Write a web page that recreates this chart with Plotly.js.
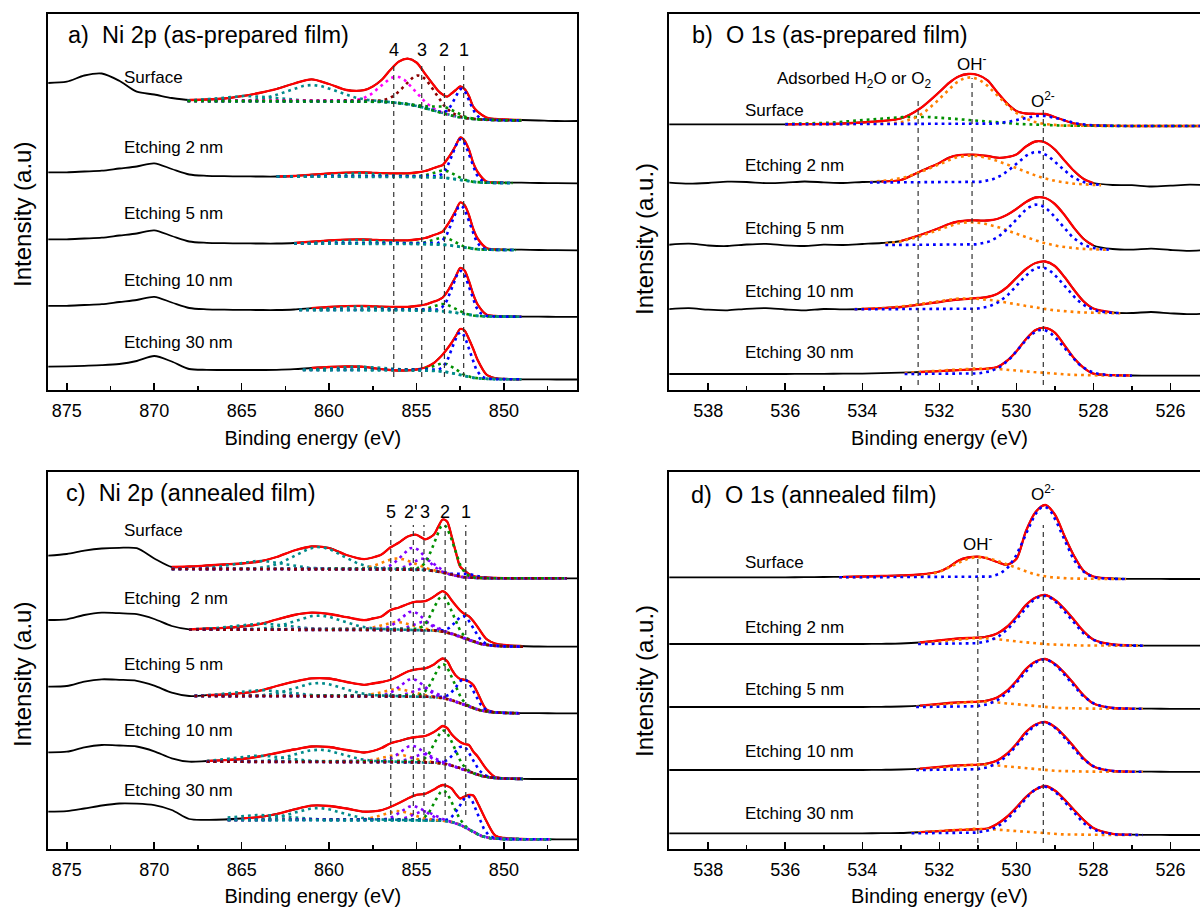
<!DOCTYPE html>
<html>
<head>
<meta charset="utf-8">
<script src="https://cdn.plot.ly/plotly-3.0.1.min.js"></script>
<style>
  html, body { margin: 0; padding: 0; background: #fff; overflow: hidden; }
  body { width: 1200px; height: 907px; }
  #chart { width: 1230px; height: 907px; }
</style>
</head>
<body>
<div id="chart"></div>
<script>
// ---------- binding-energy grids (eV) ----------
const niEnergy = [876.1, 875, 874, 873, 872, 871, 870, 869, 868, 867, 866, 865, 864, 863, 862, 861, 860, 859, 858, 857.5, 857, 856.5, 856, 855.5, 855, 854.5, 854, 853.75, 853.5, 853.25, 853, 852.75, 852.5, 852.25, 852, 851.75, 851.5, 851, 850.5, 850, 849, 848, 847, 845.7];
const oEnergy = [539.1, 538.5, 538, 537.5, 537, 536.5, 536, 535.5, 535, 534.5, 534, 533.5, 533, 532.5, 532, 531.75, 531.5, 531.25, 531, 530.75, 530.5, 530.25, 530, 529.75, 529.5, 529.25, 529, 528.75, 528.5, 528.25, 528, 527.5, 527, 526.5, 526, 525.5, 524.9];

// ---------- Ni 2p, as-prepared film (stacked intensities, a.u.) ----------
const niAsSurface = [307, 308.3, 314.5, 316.5, 309.2, 298.3, 295.5, 292, 290, 290.5, 291.5, 293.8, 297, 301, 306.5, 310.6, 306, 300, 299.8, 303.5, 310, 320, 328.5, 331.3, 327.5, 316, 304.5, 299, 295.5, 293.3, 296.5, 300, 303.5, 301, 294, 283.3, 278.3, 272.5, 271, 270.5, 270, 269.5, 269, 269];
const niAs2nm = [217.7, 217.7, 218.5, 219.3, 221.5, 223.5, 226.7, 221, 215.5, 214.2, 213.8, 213.6, 213.5, 213.5, 214, 215.3, 216.5, 217.4, 217.5, 217.2, 216.8, 216.7, 216.7, 216.7, 217.5, 219, 222, 223.5, 225, 230.5, 237, 244.5, 252.5, 249.5, 240.5, 227, 218, 208.5, 207.5, 207.3, 207.3, 207, 206.8, 206.7];
const niAs5nm = [150.7, 150.7, 151.5, 152.3, 154.5, 156.5, 159.7, 154, 148.5, 147.2, 146.8, 146.6, 146.5, 146.5, 147, 148.3, 149.5, 150.4, 150.5, 150.2, 149.8, 149.7, 149.7, 149.7, 150.5, 152, 155, 156.5, 158.5, 164.5, 171.5, 179.5, 187.5, 185, 175, 161, 151.5, 142, 140.5, 140.3, 140.3, 140, 139.8, 139.7];
const niAs10nm = [84.2, 84.2, 85, 85.8, 88, 90, 93.2, 87.5, 82, 80.7, 80.3, 80.1, 80, 80, 80.5, 81.8, 83, 83.9, 84, 83.7, 83.3, 83.2, 83.2, 83.2, 84, 85.5, 88.5, 90, 92.5, 98, 105.5, 113.5, 122, 119.5, 109, 95.5, 85.5, 75.5, 74, 73.6, 73.4, 73.3, 73.2, 73.2];
const niAs30nm = [23.3, 23.7, 24.2, 24.8, 26, 29, 34, 28.5, 21, 20.2, 20, 20, 20, 20.2, 20.8, 22, 23, 23.5, 23.2, 22, 20.8, 20, 19.5, 19.7, 20.5, 22.5, 27, 31, 35.5, 41, 47, 54, 61, 59.5, 51, 41, 30, 15.5, 11.8, 11, 10.7, 10.7, 10.5, 10.5];

// ---------- O 1s, as-prepared film ----------
const oAsSurface = [265.7, 265.7, 265.7, 265.7, 265.7, 265.7, 265.7, 265.8, 266, 266.5, 267.5, 269, 271.5, 281.5, 298, 307, 313.5, 316, 315, 309.7, 298, 287, 279, 276.5, 276.2, 276, 273, 269.5, 266.5, 265, 264.5, 264.2, 264, 264, 264, 264, 264];
const oAs2nm = [207.5, 206.3, 207, 208.3, 208, 206.8, 207.3, 208.5, 207.7, 207, 208, 208.5, 210, 218.5, 227, 232.3, 234.8, 235.3, 235.2, 234, 232.3, 232.8, 235.5, 243.5, 248.5, 247.5, 240.5, 229.5, 219, 211, 207, 205, 204.8, 203.5, 204.3, 205.3, 204.6];
const oAs5nm = [145, 146.3, 144.5, 144, 145.5, 146.2, 144.7, 144, 145.3, 145, 146, 147, 149, 155, 162, 166, 168.5, 169.5, 169.5, 169.5, 171, 175, 181, 188, 192.5, 192, 186, 175, 162, 151, 144.5, 141, 140.3, 141.3, 140, 139.2, 140.3];
const oAs10nm = [80.7, 81.8, 80.3, 79.7, 81.2, 81.9, 80.5, 79.6, 81, 80.6, 81, 81.8, 83, 85.3, 88, 89.5, 90.5, 91.2, 92, 93, 96, 102.5, 112, 121, 127, 128.5, 124, 113, 100, 88.5, 81.5, 77.5, 77, 78, 76.7, 75.8, 77];
const oAs30nm = [16, 16, 16, 16, 16, 16, 16, 16.1, 16.2, 16.3, 16.4, 16.9, 17.3, 18, 18.9, 19.5, 19.9, 20.4, 20.8, 21.4, 23, 29, 38.6, 50.8, 59.9, 62.2, 57.4, 44.8, 31.7, 22.1, 16.3, 14.8, 14.5, 14.3, 14.3, 14.3, 14.3];

// ---------- Ni 2p, annealed film ----------
const niAnSurface = [293.3, 295, 298.3, 300.5, 301.2, 300.8, 290.5, 282, 282.5, 283.5, 284.5, 285.5, 287.5, 292, 298.5, 302.5, 301, 294, 289.8, 291.5, 294.5, 301.5, 306.5, 312.5, 314.2, 309.7, 314.5, 322.5, 329.5, 327.5, 313.5, 297, 282.3, 278.5, 275, 273, 272, 271.5, 271, 270.8, 270.7, 270.7, 270.7, 270.7];
const niAn2nm = [229, 229.7, 234, 236.3, 235.8, 234.8, 230, 223, 219.7, 220.5, 221.2, 222.5, 224.8, 229.5, 234, 236.3, 235, 231.8, 228.8, 230.5, 232.5, 238.8, 241.5, 245, 247.3, 247.8, 252.4, 255.5, 257.8, 255, 249, 243.5, 238.5, 235, 232.7, 228, 222, 210, 205.5, 204, 203, 202.5, 202.3, 202.3];
const niAn5nm = [162.4, 163, 167.4, 169.7, 169.2, 168.2, 163.4, 156.4, 153, 153.8, 154.5, 155.8, 158.2, 163, 167.3, 170.6, 170.5, 167, 164.2, 165.5, 167, 169, 173, 177.5, 179.7, 180.7, 184.5, 188, 190.5, 188, 180, 173.5, 170, 169.2, 167.5, 164, 156, 139.5, 136.7, 136.2, 135.9, 135.8, 135.7, 135.7];
const niAn10nm = [96.7, 97.3, 101.7, 104, 103.5, 102.5, 97.7, 90.7, 87.3, 88, 88.8, 90, 92.5, 96, 99.5, 102.5, 102, 99, 96.5, 98, 101, 105.5, 108, 110.5, 112, 113, 117, 120, 123, 121, 115, 110.5, 107, 105, 104, 97.5, 92.5, 80, 72, 70.8, 70.2, 70, 70, 70];
const niAn30nm = [37.3, 37.8, 40.5, 43.5, 45.5, 45.3, 43.8, 39, 30, 29.2, 29.5, 30.5, 32, 35, 39.5, 43.3, 43, 40.5, 37.3, 37.6, 38.8, 42, 46, 50.5, 54.2, 55.2, 59.5, 62.2, 64, 63, 60.7, 55, 50.5, 52.5, 54, 53.5, 46, 28, 13.5, 11, 10, 9.8, 9.7, 9.7];

// ---------- O 1s, annealed film ----------
const oAnSurface = [271.7, 271.7, 271.7, 271.7, 271.7, 271.7, 271.7, 271.8, 272, 272.2, 272.5, 273, 273.5, 274.5, 277.5, 282, 288.5, 291.5, 292.3, 290.5, 287, 284.2, 290, 318, 337, 344, 334.5, 313, 293, 278, 272.5, 270.5, 270.2, 270.1, 270, 270, 270];
const oAn2nm = [205, 205, 205, 205, 205, 205, 205, 205, 205, 205, 205, 205.2, 205.5, 206.5, 208.5, 209.7, 210.5, 211, 211.3, 212.5, 215.5, 222, 232, 244, 251.5, 254, 249, 240, 229, 217.5, 209.5, 204.5, 203.6, 203.4, 203.3, 203.3, 203.3];
const oAn5nm = [142, 142, 142, 142, 142, 142, 142, 142, 142, 142, 142, 142.2, 142.5, 143.3, 145, 146, 146.7, 147, 147.3, 148.5, 151.5, 158, 168, 180, 187.5, 190, 185, 176, 165, 153.5, 145.5, 141, 140.4, 140.3, 140.2, 140.2, 140.2];
const oAn10nm = [79, 79, 79, 79, 79, 79, 79, 79, 79, 79, 79, 79.2, 79.5, 80.3, 82, 83, 83.7, 84, 84.3, 85.5, 88.5, 95, 105, 117, 124.5, 127, 122, 113, 102, 90.5, 82.5, 78, 77.4, 77.3, 77.2, 77.2, 77.2];
const oAn30nm = [15.7, 15.7, 15.7, 15.7, 15.7, 15.7, 15.7, 15.7, 15.7, 15.7, 15.7, 15.8, 16, 16.8, 17.8, 18.5, 19, 19.4, 19.8, 20.5, 25, 32, 41.5, 52, 59.5, 63, 58.5, 49.5, 39, 29, 21, 15.2, 14.3, 14.1, 14, 14, 14];

// ---------- fitted components ----------
// window: [high BE, low BE] of the fit
// background: [level on high-BE side, level on low-BE side, step centre, step width]
// peak: [colour, centre (eV), FWHM (eV), height, optional FWHM on low-BE side]
const niAsFits = [
  { win: [868.1, 849], bg: [289, 269.5, 854, 0.9], bgColor: 'green',
    peaks: [['teal', 864.8, 3.6, 5], ['teal', 861.0, 3.4, 16], ['magenta', 856.1, 2.2, 26], ['brown', 854.8, 2.0, 31], ['green', 853.4, 1.5, 7], ['blue', 852.4, 1.0, 29]] },
  { win: [863, 849.5], bg: [213.5, 207, 852.6, 0.5], bgColor: 'teal',
    peaks: [['teal', 858.4, 3.0, 3.5], ['green', 853.4, 1.4, 7], ['blue', 852.45, 1.15, 41]] },
  { win: [862, 849.3], bg: [146.5, 140, 852.6, 0.5], bgColor: 'teal',
    peaks: [['teal', 858.4, 3.0, 3.5], ['green', 853.4, 1.4, 7], ['blue', 852.45, 1.15, 41.5]] },
  { win: [861.7, 849], bg: [80, 73.3, 852.6, 0.5], bgColor: 'teal',
    peaks: [['teal', 858.4, 3.0, 3.5], ['green', 853.4, 1.4, 7], ['blue', 852.45, 1.15, 43]] },
  { win: [861.5, 849], bg: [20, 10.7, 852.6, 0.5], bgColor: 'teal',
    peaks: [['teal', 858.4, 3.0, 3.5], ['green', 853.4, 1.4, 8], ['blue', 852.45, 1.15, 43]] }
];
const oAsFits = [
  { win: [536, 524.9], bg: [265.7, 264, 529.5, 0.5],
    peaks: [['green', 532.6, 3.0, 7.5], ['orange', 531.2, 1.7, 47], ['blue', 529.35, 1.3, 9.5]] },
  { win: [533.8, 527.8], bg: [207.5, 204.5, 529.4, 0.5],
    peaks: [['orange', 531.2, 2.2, 27, 2.6], ['blue', 529.45, 1.3, 32]] },
  { win: [533.4, 527.6], bg: [145, 140, 529.5, 0.5],
    peaks: [['orange', 531.2, 2.2, 23, 2.6], ['blue', 529.45, 1.35, 43]] },
  { win: [534.2, 527.3], bg: [80.7, 76.7, 529.4, 0.5],
    peaks: [['orange', 531.3, 2.4, 11, 2.8], ['blue', 529.35, 1.4, 44]] },
  { win: [532.9, 527], bg: [16, 14.3, 529.3, 0.5],
    peaks: [['orange', 530.9, 2.6, 5.5], ['blue', 529.33, 1.35, 45]] }
];
const niAnFits = [
  { win: [869, 846.4], bg: [280, 270.7, 853.3, 0.5], bgColor: 'brown',
    peaks: [['teal', 864.0, 3.5, 8], ['teal', 860.6, 3.2, 22], ['orange', 856.1, 2.0, 10.7], ['violet', 855.2, 1.6, 21.5], ['violet', 854.6, 1.4, 11], ['green', 853.42, 1.3, 48], ['blue', 852.2, 1.2, 4]] },
  { win: [868, 848.9], bg: [219.5, 202.3, 852.3, 0.6], bgColor: 'brown',
    peaks: [['teal', 864.0, 3.5, 6], ['teal', 860.6, 3.2, 14], ['orange', 856.1, 2.0, 7.5], ['violet', 855.25, 1.6, 18], ['violet', 854.6, 1.4, 8], ['green', 853.5, 1.25, 35], ['blue', 852.25, 1.2, 22]] },
  { win: [867.7, 849.1], bg: [153, 135.7, 852.3, 0.6], bgColor: 'brown',
    peaks: [['teal', 864.0, 3.5, 6], ['teal', 860.6, 3.2, 13], ['orange', 856.1, 2.0, 7], ['violet', 855.25, 1.6, 17], ['violet', 854.6, 1.4, 8], ['green', 853.46, 1.25, 34], ['blue', 852.2, 1.2, 26]] },
  { win: [867, 848.9], bg: [87.3, 70, 852.2, 0.6], bgColor: 'brown',
    peaks: [['teal', 864.0, 3.5, 6], ['teal', 860.6, 3.2, 12], ['orange', 856.1, 2.0, 7], ['violet', 855.25, 1.6, 16], ['violet', 854.6, 1.4, 8], ['green', 853.42, 1.25, 33], ['blue', 852.3, 1.2, 23]] },
  { win: [865.8, 847.3], bg: [29, 9.7, 852.0, 0.45], bgColor: 'teal',
    peaks: [['teal', 864.0, 3.5, 5], ['teal', 860.65, 3.2, 12], ['orange', 856.1, 2.0, 9], ['violet', 855.2, 1.6, 14], ['violet', 854.6, 1.4, 9], ['green', 853.45, 1.2, 30], ['blue', 852.0, 1.2, 33]] }
];
const oAnFits = [
  { win: [534.6, 527.15], bg: [271.7, 270, 529.5, 0.5],
    peaks: [['orange', 531.0, 1.45, 20.3, 1.9], ['blue', 529.28, 1.12, 71.5]] },
  { win: [532.55, 526.7], bg: [205, 203.3, 529.3, 0.5],
    peaks: [['orange', 531.0, 1.6, 6, 2.0], ['blue', 529.28, 1.45, 49]] },
  { win: [532.6, 526.7], bg: [142, 140.2, 529.3, 0.5],
    peaks: [['orange', 531.0, 1.6, 5.5, 2.0], ['blue', 529.28, 1.45, 48.5]] },
  { win: [532.6, 526.7], bg: [79, 77.2, 529.3, 0.5],
    peaks: [['orange', 531.0, 1.6, 5.5, 2.0], ['blue', 529.28, 1.45, 48.5]] },
  { win: [532.72, 526.7], bg: [15.7, 14, 529.3, 0.5],
    peaks: [['orange', 531.0, 2.0, 4.5], ['blue', 529.28, 1.45, 47.5]] }
];

// ---------- reference lines and their labels ----------
const niAsLines = [856.3, 854.7, 853.4, 852.3];
const niAsLineLabels = ['4', '3', '2', '1'];
const oAsLines = [532.55, 531.15, 529.3];
const niAnLines = [856.47, 855.18, 854.57, 853.36, 852.18];
const niAnLineLabels = ['5', "2'", '3', '2', '1'];
const niAnLabelShift = [0, 0.17, -0.05, 0, 0];
const oAnLines = [531.0, 529.3];

const depthLabels = ['Surface', 'Etching 2 nm', 'Etching 5 nm', 'Etching 10 nm', 'Etching 30 nm'];

// ---------- drawing ----------
const W = 1230, H = 907;
const FONT = 'Liberation Sans, Arial, Helvetica, sans-serif';
const palette = { red: '#ff0000', blue: '#0000ff', green: '#009000', teal: '#008b8b', magenta: '#ff00ff',
                  brown: '#8b0000', orange: '#ff8000', violet: '#8000ff' };
const DOT = '2.8px,4px';
const px = x => x / W;
const py = y => 1 - y / H;

function background(E, b) { return b[1] + (b[0] - b[1]) / (1 + Math.exp(-(E - b[2]) / b[3])); }
function peak(E, p) {
  const w = (E < p[1] && p[4]) ? p[4] : p[2];
  const d = (E - p[1]) / w;
  return p[3] * Math.exp(-4 * Math.LN2 * d * d);
}

const traces = [];
function addPanel(n, energies, spectra, fits) {
  const xa = n === 1 ? 'x' : 'x' + n, ya = n === 1 ? 'y' : 'y' + n;
  spectra.forEach((data, k) => {
    const fit = fits[k];
    traces.push({ x: energies, y: data, xaxis: xa, yaxis: ya, mode: 'lines', hoverinfo: 'skip',
                  line: { color: '#000', width: 1.8, shape: 'spline', smoothing: 0.8 } });
    const fx = [], fy = [];
    energies.forEach((e, i) => { if (e <= fit.win[0] && e >= fit.win[1]) { fx.push(e); fy.push(data[i]); } });
    traces.push({ x: fx, y: fy, xaxis: xa, yaxis: ya, mode: 'lines', hoverinfo: 'skip',
                  line: { color: palette.red, width: 2.3, shape: 'spline', smoothing: 0.8 } });
    const grid = [];
    for (let e = fit.win[0]; e >= fit.win[1] - 1e-9; e -= 0.05) grid.push(e);
    fit.peaks.forEach(p => {
      traces.push({ x: grid, y: grid.map(e => background(e, fit.bg) + peak(e, p)), xaxis: xa, yaxis: ya,
                    mode: 'lines', hoverinfo: 'skip', line: { color: palette[p[0]], width: 2.6, dash: DOT } });
    });
    if (fit.bgColor) {
      traces.push({ x: grid, y: grid.map(e => background(e, fit.bg)), xaxis: xa, yaxis: ya, mode: 'lines',
                    hoverinfo: 'skip', line: { color: palette[fit.bgColor], width: 2.6, dash: DOT } });
    }
  });
}

addPanel(1, niEnergy, [niAsSurface, niAs2nm, niAs5nm, niAs10nm, niAs30nm], niAsFits);
addPanel(2, oEnergy, [oAsSurface, oAs2nm, oAs5nm, oAs10nm, oAs30nm], oAsFits);
addPanel(3, niEnergy, [niAnSurface, niAn2nm, niAn5nm, niAn10nm, niAn30nm], niAnFits);
addPanel(4, oEnergy, [oAnSurface, oAn2nm, oAn5nm, oAn10nm, oAn30nm], oAnFits);

// panel frames (pixel positions)
const leftX = [48.3, 577.3], rightX = [669.3, 1209.7];
const topY = [14, 390], botY = [471.7, 849];

function xAxis(xd, range, dtick, minor, anchor) {
  return {
    domain: [px(xd[0]), px(xd[1])], range, anchor,
    showline: true, mirror: true, linecolor: '#000', linewidth: 2,
    ticks: 'inside', ticklen: 7, tickwidth: 1.5, tickcolor: '#000',
    tickmode: 'linear', tick0: 0, dtick,
    minor: { tick0: 0, dtick: minor, ticks: 'inside', ticklen: 4, tickwidth: 1.5, tickcolor: '#000', showgrid: false },
    showgrid: false, zeroline: false, fixedrange: true,
    tickfont: { family: FONT, size: 18, color: '#000' }, ticklabelstandoff: 3,
    title: { text: 'Binding energy (eV)', font: { family: FONT, size: 20, color: '#000' }, standoff: 11 }
  };
}
function yAxis(yd, anchor) {
  return {
    domain: [py(yd[1]), py(yd[0])], range: [0, yd[1] - yd[0]], anchor,
    showline: true, mirror: true, linecolor: '#000', linewidth: 2,
    ticks: '', showticklabels: false, showgrid: false, zeroline: false, fixedrange: true
  };
}

const annotations = [];
function text(t, x, y, size, xanchor, extra) {
  annotations.push(Object.assign({ text: t, xref: 'paper', yref: 'paper', x: px(x), y: py(y),
    xanchor: xanchor || 'left', yanchor: 'middle', showarrow: false,
    font: { family: FONT, size: size, color: '#000' } }, extra || {}));
}
function dataText(t, axisN, x, yPix, panelBottom, size) {
  annotations.push({ text: t, xref: axisN === 1 ? 'x' : 'x' + axisN, yref: axisN === 1 ? 'y' : 'y' + axisN,
    x: x, y: panelBottom - yPix, xanchor: 'center', yanchor: 'middle', showarrow: false,
    font: { family: FONT, size: size, color: '#000' } });
}

// panel titles
text('a)\u00a0 Ni 2p (as-prepared film)', 66, 35, 23.5);
text('b)\u00a0 O 1s (as-prepared film)', 690, 35, 23.5);
text('c)\u00a0 Ni 2p (annealed film)', 64, 493, 23.5);
text('d)\u00a0 O 1s (annealed film)', 689, 495, 23.5);

// intensity axis titles
text('Intensity (a.u)', 22, 215, 24, 'center', { textangle: -90 });
text('Intensity (a.u.)', 644, 239, 24, 'center', { textangle: -90 });
text('Intensity (a.u)', 22, 675, 24, 'center', { textangle: -90 });
text('Intensity (a.u.)', 644, 681, 24, 'center', { textangle: -90 });

// depth labels
const aLabelY = [77, 147, 213, 280, 343], bLabelY = [111, 166, 228, 291, 353];
const cLabelY = [530, 598, 664, 730, 790], dLabelY = [562, 627, 689, 751, 813];
depthLabels.forEach((t, k) => {
  text(t, 122, aLabelY[k], 17);
  text(t, 743, bLabelY[k], 17);
  text(k === 1 ? 'Etching\u00a0 2 nm' : t, 122, cLabelY[k], 17);
  text(t, 743, dLabelY[k], 17);
});

// peak labels
niAsLines.forEach((e, k) => dataText(niAsLineLabels[k], 1, e, 50, 390, 18));
niAnLines.forEach((e, k) => dataText(niAnLineLabels[k], 3, e + niAnLabelShift[k], 512, 849, 18));
text('Adsorbed H<sub>2</sub>O or O<sub>2</sub>', 775, 80, 17);
dataText('OH<sup>-</sup>', 2, oAsLines[1], 63, 390, 17);
dataText('O<sup>2-</sup>', 2, oAsLines[2], 100, 390, 17);
dataText('OH<sup>-</sup>', 4, oAnLines[0], 543, 849, 17);
dataText('O<sup>2-</sup>', 4, oAnLines[1], 493, 849, 17);

// dashed reference lines
const shapes = [];
function vline(axisN, e, topPix, botPix, panelBottom) {
  shapes.push({ type: 'line', xref: axisN === 1 ? 'x' : 'x' + axisN, yref: axisN === 1 ? 'y' : 'y' + axisN,
    x0: e, x1: e, y0: panelBottom - botPix, y1: panelBottom - topPix,
    line: { color: '#333', width: 1.2, dash: '5px,4px' } });
}
niAsLines.forEach(e => vline(1, e, 65, 377, 390));
const oAsTops = [98, 78, 107];
oAsLines.forEach((e, k) => vline(2, e, oAsTops[k], 385, 390));
niAnLines.forEach(e => vline(3, e, 525, 815, 849));
const oAnTops = [558, 525];
oAnLines.forEach((e, k) => vline(4, e, oAnTops[k], 843, 849));

const layout = {
  width: W, height: H, margin: { l: 0, r: 0, t: 0, b: 0 },
  paper_bgcolor: '#fff', plot_bgcolor: 'rgba(0,0,0,0)', showlegend: false,
  font: { family: FONT, color: '#000' },
  xaxis: xAxis(leftX, [876.06, 845.8], 5, 2.5, 'y'),
  yaxis: yAxis(topY, 'x'),
  xaxis2: xAxis(rightX, [539.01, 524.98], 2, 1, 'y2'),
  yaxis2: yAxis(topY, 'x2'),
  xaxis3: xAxis(leftX, [876.06, 845.8], 5, 2.5, 'y3'),
  yaxis3: yAxis(botY, 'x3'),
  xaxis4: xAxis(rightX, [539.01, 524.98], 2, 1, 'y4'),
  yaxis4: yAxis(botY, 'x4'),
  annotations, shapes
};

Plotly.newPlot('chart', traces, layout, { displayModeBar: false, staticPlot: true });
</script>
</body>
</html>
